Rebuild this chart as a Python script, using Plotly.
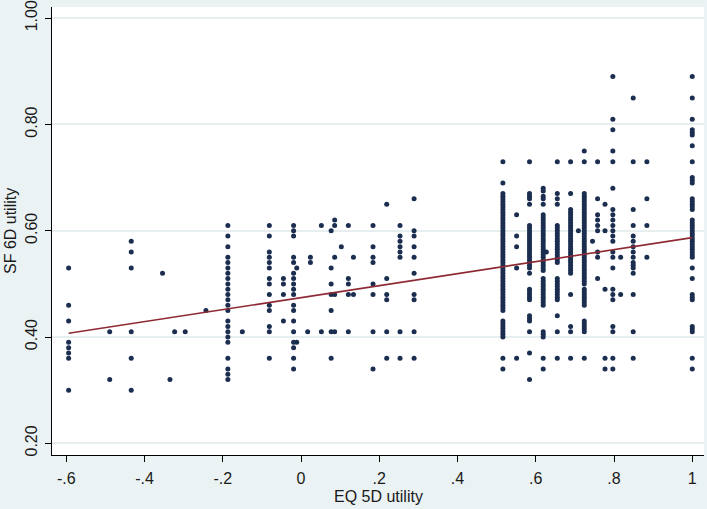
import plotly.graph_objects as go

# EQ-5D utility levels (x) and SF-6D utilities observed at each level (y)
col_m0594 = [0.53, 0.46, 0.43, 0.39, 0.38, 0.37, 0.36, 0.30]
col_m0489 = [0.41, 0.32]
col_m0434 = [0.58, 0.56, 0.53, 0.41, 0.36, 0.30]
col_m0354 = [0.52]
col_m0335 = [0.32]
col_m0323 = [0.41]
col_m0296 = [0.41]
col_m0243 = [0.45]
col_m0187 = [0.61, 0.59, 0.57, 0.55, 0.54, 0.53, 0.52, 0.51, 0.50, 0.49, 0.48, 0.47, 0.46,
             0.45, 0.43, 0.42, 0.41, 0.40, 0.39, 0.36, 0.34, 0.33, 0.32]
col_m0150 = [0.41]
col_m0081 = [0.61, 0.59, 0.56, 0.55, 0.54, 0.53, 0.51, 0.50, 0.48, 0.46, 0.45, 0.42, 0.41, 0.36]
col_m0045 = [0.51, 0.50, 0.48, 0.43]
col_m0019 = [0.61, 0.60, 0.59, 0.55, 0.54, 0.52, 0.51, 0.50, 0.49, 0.48, 0.46, 0.45, 0.43,
             0.41, 0.39, 0.38, 0.36, 0.34]
col_m0011 = [0.53, 0.39]
col_p0017 = [0.41]
col_p0024 = [0.55, 0.54]
col_p0052 = [0.61, 0.41]
col_p0077 = [0.60, 0.53, 0.50, 0.48, 0.45, 0.41, 0.36]
col_p0086 = [0.62, 0.61, 0.55, 0.48, 0.41]
col_p0103 = [0.57]
col_p0121 = [0.61, 0.51, 0.50, 0.48, 0.41]
col_p0134 = [0.55, 0.48]
col_p0184 = [0.61, 0.57, 0.55, 0.54, 0.50, 0.48, 0.41, 0.34]
col_p0219 = [0.65, 0.51, 0.48, 0.47, 0.41, 0.36]
col_p0253 = [0.61, 0.59, 0.58, 0.57, 0.56, 0.55, 0.41, 0.36]
col_p0289 = [0.66, 0.60, 0.59, 0.57, 0.55, 0.52, 0.48, 0.47, 0.41, 0.36]
col_p0516 = [0.73, 0.69, 0.67, 0.665, 0.66, 0.655, 0.65, 0.645, 0.64, 0.635, 0.63, 0.625,
             0.62, 0.615, 0.61, 0.605, 0.60, 0.595, 0.59, 0.585, 0.58, 0.575, 0.57, 0.565,
             0.56, 0.555, 0.55, 0.545, 0.54, 0.535, 0.53, 0.525, 0.52, 0.515, 0.51, 0.505,
             0.50, 0.495, 0.49, 0.485, 0.48, 0.475, 0.47, 0.465, 0.46, 0.455, 0.45, 0.43,
             0.425, 0.42, 0.415, 0.41, 0.405, 0.40, 0.36, 0.34]
col_p0551 = [0.63, 0.59, 0.57, 0.53, 0.36]
col_p0584 = [0.73, 0.67, 0.665, 0.66, 0.65, 0.61, 0.605, 0.60, 0.595, 0.59, 0.585, 0.58,
             0.575, 0.57, 0.565, 0.56, 0.555, 0.55, 0.545, 0.54, 0.535, 0.53, 0.52, 0.49,
             0.485, 0.48, 0.475, 0.47, 0.44, 0.435, 0.43, 0.41, 0.37, 0.32]
col_p0619 = [0.68, 0.675, 0.665, 0.66, 0.65, 0.63, 0.625, 0.62, 0.615, 0.61, 0.605, 0.60,
             0.595, 0.59, 0.585, 0.58, 0.575, 0.57, 0.565, 0.56, 0.555, 0.55, 0.545, 0.54,
             0.535, 0.53, 0.525, 0.51, 0.505, 0.50, 0.495, 0.49, 0.485, 0.48, 0.475, 0.47,
             0.465, 0.46, 0.41, 0.405, 0.40, 0.36, 0.34]
col_p0627 = [0.56]
col_p0655 = [0.73, 0.67, 0.66, 0.65, 0.61, 0.605, 0.60, 0.595, 0.59, 0.585, 0.58, 0.575,
             0.57, 0.565, 0.56, 0.555, 0.55, 0.545, 0.54, 0.51, 0.505, 0.50, 0.495, 0.49,
             0.485, 0.48, 0.475, 0.47, 0.44, 0.41, 0.36]
col_p0689 = [0.73, 0.67, 0.64, 0.635, 0.63, 0.625, 0.62, 0.615, 0.61, 0.605, 0.60, 0.595,
             0.59, 0.585, 0.58, 0.575, 0.57, 0.565, 0.56, 0.555, 0.55, 0.545, 0.54, 0.535,
             0.53, 0.525, 0.52, 0.48, 0.42, 0.41, 0.36]
col_p0709 = [0.60]
col_p0724 = [0.75, 0.73, 0.67, 0.665, 0.66, 0.655, 0.65, 0.645, 0.64, 0.635, 0.63, 0.625,
             0.62, 0.615, 0.61, 0.605, 0.60, 0.595, 0.59, 0.585, 0.58, 0.575, 0.57, 0.565,
             0.56, 0.555, 0.55, 0.545, 0.54, 0.535, 0.53, 0.525, 0.52, 0.515, 0.51, 0.505,
             0.50, 0.49, 0.485, 0.48, 0.475, 0.47, 0.465, 0.46, 0.43, 0.425, 0.42, 0.415,
             0.41, 0.36]
col_p0745 = [0.58]
col_p0758 = [0.73, 0.66, 0.63, 0.62, 0.61, 0.60, 0.56, 0.55, 0.51]
col_p0777 = [0.65, 0.60, 0.49, 0.36, 0.34]
col_p0797 = [0.89, 0.81, 0.79, 0.75, 0.73, 0.68, 0.64, 0.63, 0.62, 0.61, 0.60, 0.59, 0.58,
             0.56, 0.55, 0.53, 0.49, 0.48, 0.47, 0.42, 0.41, 0.36, 0.34]
col_p0817 = [0.55, 0.48]
col_p0849 = [0.85, 0.73, 0.64, 0.61, 0.59, 0.58, 0.57, 0.56, 0.55, 0.54, 0.535, 0.53, 0.52,
             0.48, 0.41, 0.36]
col_p0884 = [0.73, 0.66, 0.61, 0.55]
col_p1000 = [0.89, 0.85, 0.81, 0.79, 0.785, 0.78, 0.76, 0.73, 0.70, 0.695, 0.69, 0.66, 0.655,
             0.65, 0.645, 0.64, 0.62, 0.615, 0.61, 0.605, 0.60, 0.595, 0.59, 0.585, 0.58,
             0.575, 0.57, 0.565, 0.56, 0.555, 0.55, 0.53, 0.51, 0.48, 0.475, 0.47, 0.42,
             0.415, 0.41, 0.36, 0.34]

eq5d_levels = [-0.594, -0.489, -0.434, -0.354, -0.335, -0.323, -0.296, -0.243, -0.187,
               -0.150, -0.081, -0.045, -0.019, -0.011, 0.017, 0.024, 0.052, 0.077, 0.086,
               0.103, 0.121, 0.134, 0.184, 0.219, 0.253, 0.289, 0.516, 0.551, 0.584, 0.619,
               0.627, 0.655, 0.689, 0.709, 0.724, 0.745, 0.758, 0.777, 0.797, 0.817, 0.849,
               0.884, 1.000]
sf6d_columns = [col_m0594, col_m0489, col_m0434, col_m0354, col_m0335, col_m0323, col_m0296,
                col_m0243, col_m0187, col_m0150, col_m0081, col_m0045, col_m0019, col_m0011,
                col_p0017, col_p0024, col_p0052, col_p0077, col_p0086, col_p0103, col_p0121,
                col_p0134, col_p0184, col_p0219, col_p0253, col_p0289, col_p0516, col_p0551,
                col_p0584, col_p0619, col_p0627, col_p0655, col_p0689, col_p0709, col_p0724,
                col_p0745, col_p0758, col_p0777, col_p0797, col_p0817, col_p0849, col_p0884,
                col_p1000]

# Linear fit line (fitted values at the ends of the EQ-5D range)
fit_eq5d = [-0.594, 1.0]
fit_sf6d = [0.407, 0.587]

x_tick_vals = [-0.6, -0.4, -0.2, 0, 0.2, 0.4, 0.6, 0.8, 1.0]
x_tick_text = ["-.6", "-.4", "-.2", "0", ".2", ".4", ".6", ".8", "1"]
y_tick_vals = [0.2, 0.4, 0.6, 0.8, 1.0]
y_tick_text = ["0.20", "0.40", "0.60", "0.80", "1.00"]

xs, ys = [], []
for lvl, col in zip(eq5d_levels, sf6d_columns):
    for v in col:
        xs.append(lvl)
        ys.append(v)

FONT = "Liberation Sans, Arial, sans-serif"
BG = "#EAF2F3"

fig = go.Figure()
fig.add_trace(go.Scatter(x=xs, y=ys, mode="markers",
                         marker=dict(size=5, color="#1B2E50", line=dict(width=0)),
                         showlegend=False, hoverinfo="x+y"))
fig.add_trace(go.Scatter(x=fit_eq5d, y=fit_sf6d, mode="lines",
                         line=dict(color="#8E2A33", width=1.6),
                         showlegend=False))

fig.update_layout(
    width=707, height=509,
    margin=dict(l=52, r=3, t=7, b=54),
    paper_bgcolor=BG, plot_bgcolor="white",
    font=dict(family=FONT, size=16, color="#1a1a1a"),
    xaxis=dict(range=[-0.6365, 1.030], tickvals=x_tick_vals, ticktext=x_tick_text,
               showgrid=False, zeroline=False, showline=True, linecolor="#000",
               linewidth=1, ticks="outside", ticklen=6, tickcolor="#000",
               tickfont=dict(size=16), ticklabelstandoff=3, automargin=False),
    yaxis=dict(range=[0.178, 1.021], tickvals=y_tick_vals, ticktext=y_tick_text,
               tickangle=-90, showgrid=True, gridcolor="#E6EEF0", gridwidth=1.5,
               zeroline=False, showline=True, linecolor="#000", linewidth=1,
               ticks="outside", ticklen=6, tickcolor="#000",
               tickfont=dict(size=16), ticklabelstandoff=2, automargin=False),
    annotations=[
        dict(text="SF 6D utility", xref="paper", yref="paper", x=-0.0644, y=0.5,
             xanchor="center", yanchor="middle", textangle=-90, showarrow=False,
             font=dict(size=16, family=FONT, color="#1a1a1a")),
        dict(text="EQ 5D utility", xref="paper", yref="paper", x=0.5, y=-0.0937,
             xanchor="center", yanchor="middle", showarrow=False,
             font=dict(size=16, family=FONT, color="#1a1a1a")),
    ],
)

fig.write_html("out.html", config={"displayModeBar": False},
               post_script="document.body.style.margin='0';document.body.style.background='" + BG + "';")
